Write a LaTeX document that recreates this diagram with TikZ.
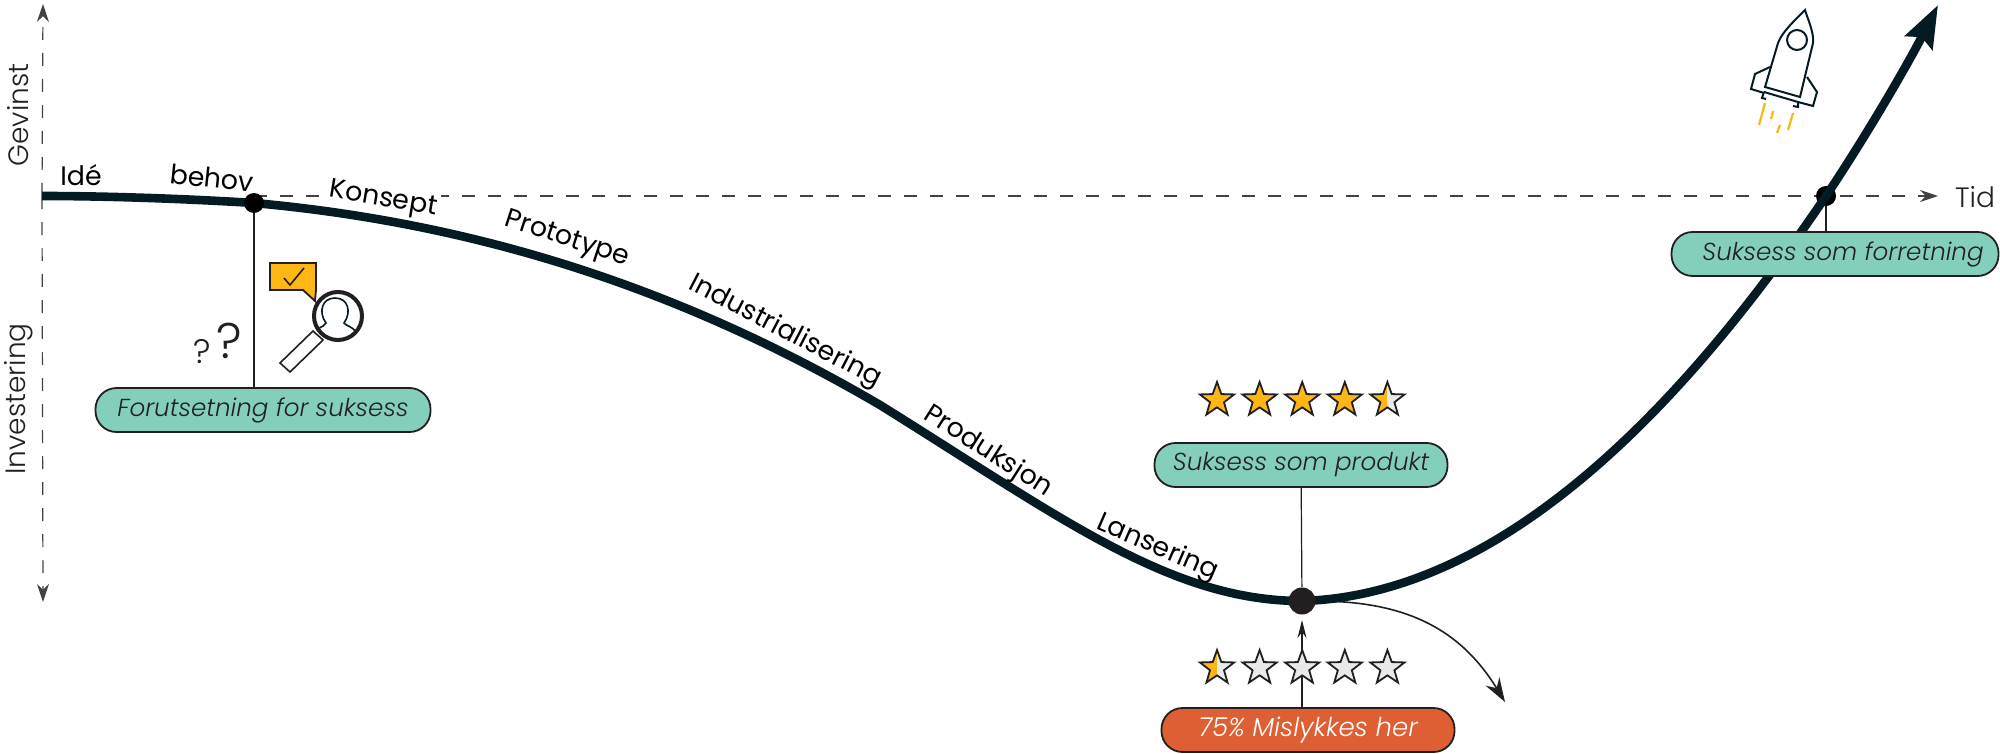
\documentclass[tikz,border=0pt]{standalone}
\usepackage{fontspec}
\usepackage{xcolor}
\usepackage{tikz}
\usetikzlibrary{shapes,shapes.geometric,arrows.meta,positioning,backgrounds,calc}
\setmainfont{Poppins}
\newfontfamily\lightfont{Poppins}[UprightFont=* Light,ItalicFont=* Light Italic]
\definecolor{curvedark}{HTML}{051B24}
\definecolor{inkdark}{HTML}{231F20}
\definecolor{pillteal}{HTML}{84CFBC}
\definecolor{pillred}{HTML}{DE5F33}
\definecolor{staryellow}{HTML}{FDB614}
\definecolor{stargrey}{HTML}{E8E9EA}

\begin{document}
\begin{tikzpicture}[
    x=0.5pt, y=-0.5pt,
    node distance=21.3pt,
    pill/.style={rectangle, rounded corners=10.5pt, minimum height=22pt, inner sep=0pt, draw=inkdark, line width=0.9pt, text=inkdark, font=\lightfont\itshape\fontsize{12.3pt}{15pt}\selectfont},
    stepname/.style={inner sep=0pt, text=black, font=\fontsize{13.4pt}{15pt}\selectfont},
    axisname/.style={inner sep=0pt, text=inkdark, font=\lightfont\fontsize{14pt}{16pt}\selectfont},
    dot/.style={circle, fill=inkdark, inner sep=0pt},
    star_off/.style={star, star points=5, star point ratio=2.45, minimum size=18pt, inner sep=0pt, draw=inkdark, line width=0.9pt, fill=stargrey},
    star_on/.style={star_off, fill=staryellow},
    star_half/.style={star_off, path picture={\fill[staryellow] (path picture bounding box.south west) rectangle (path picture bounding box.north);}},
    dasharrow/.style={line width=0.6pt, inkdark!85, dash pattern=on 6.5pt off 6.5pt, -{Stealth[length=9pt,width=6pt]}},
    thin/.style={line width=0.6pt, inkdark},
    icon/.style={line width=1pt, curvedark, line join=miter},
    flame/.style={line width=1.1pt, staryellow}
]
\useasboundingbox (0,0) rectangle (2000,754);

% Points on the curve
\node[dot, fill=black, minimum size=10pt] (dot_need) at (254,203) {};
\node[dot, minimum size=13.5pt] (dot_low) at (1302,601) {};

% Label boxes
\node[pill, fill=pillteal, minimum width=167.5pt] (box_need) at (263,410) {Forutsetning for suksess};
\node[pill, fill=pillteal, minimum width=146.5pt] (box_product) at (1301,465) {Suksess som produkt};
\node[pill, fill=pillred, text=white, font=\lightfont\itshape\fontsize{13pt}{15pt}\selectfont, minimum width=146.5pt] (box_fail) at (1308,730) {75\% Mislykkes her};
\node[pill, fill=pillteal, minimum width=163.5pt] (box_business) at (1835,254) {\hspace*{8pt}Suksess som forretning};

\coordinate (axis_top) at (43,4);
\coordinate (axis_bottom) at (43,602);
\coordinate (axis_end) at (1938,196);
\coordinate (fail_end) at (1505,702);
\coordinate (curve_start) at (42,196);
\coordinate (curve_tip) at (1938,5);

% Axes and connectors go behind everything else
\begin{scope}[on background layer]
\draw[dasharrow] (curve_start) -- (axis_top);
\draw[dasharrow] (curve_start) -- (axis_bottom);
\draw[dasharrow] (dot_need |- curve_start) -- (axis_end);
\node[stepname, fill=white, inner sep=1pt, rotate=-9.5] (step_concept) at (383,200) {Konsept};
\node[dot, fill=black, minimum size=10pt] (dot_business) at (1826,196) {};
\draw[thin] (dot_business) -- (dot_business |- box_business.north);
\draw[thin] (dot_need) -- (dot_need |- box_need.north);
\draw[thin] (box_product) -- (dot_low);
\draw[thin, -{Stealth[length=9pt,width=4.5pt]}] (dot_low |- box_fail.north) -- ($(dot_low)+(0,19)$);
\draw[line width=0.8pt, inkdark, -{Stealth[length=12pt,width=8pt]}] (dot_low) .. controls (1400,601) and (1458,625) .. (fail_end);
% Main curve
\draw[line width=4.3pt, curvedark, -{Stealth[length=21pt,width=15pt,inset=3pt]}] (curve_start) .. controls (110,196) and (190,199) .. (dot_need.center) .. controls (464,222) and (670,282) .. (880,405) .. controls (1060,517) and (1170,601) .. (dot_low.center) .. controls (1470,596) and (1645,463) .. (dot_business.center) .. controls (1870,130) and (1910,60) .. (curve_tip);
\end{scope}

% Stages along the curve
\node[stepname] (step_idea) at (81,175) {Idé};
\node[stepname, rotate=-6] (step_need) at (212,178) {behov};
\node[stepname, rotate=-18] (step_proto) at (567,240) {Prototype};
\node[stepname, rotate=-27.5] (step_indust) at (785,332) {Industrialisering};
\node[stepname, rotate=-32.5] (step_prod) at (988,452) {Produksjon};
\node[stepname, rotate=-23.5] (step_launch) at (1157,548) {Lansering};

% Axis names
\node[axisname, rotate=90] (axis_gain) at (18,115) {Gevinst};
\node[axisname, rotate=90] (axis_invest) at (19,399) {Investering};
\node[axisname] (axis_time) at (1975,197) {Tid};

% Star rows
\node[star_on] (star_a) at (1217,400) {};
\node[star_on, right of=star_a] (star_b) {};
\node[star_on, right of=star_b] (star_c) {};
\node[star_on, right of=star_c] (star_d) {};
\node[star_half, right of=star_d] (star_e) {};
\node[star_half] (star_f) at (1217,668) {};
\node[star_off, right of=star_f] (star_g) {};
\node[star_off, right of=star_g] (star_h) {};
\node[star_off, right of=star_h] (star_i) {};
\node[star_off, right of=star_i] (star_j) {};

% Question marks
\node[inner sep=0pt, text=inkdark, font=\lightfont\fontsize{25pt}{25pt}\selectfont] (ask_big) at (229,341) {?};
\node[inner sep=0pt, text=inkdark, font=\lightfont\fontsize{17pt}{17pt}\selectfont] (ask_small) at (202,352) {?};

% Magnifier with speech bubble
\draw[line width=0.9pt, inkdark, fill=staryellow] (270,263) -- (316,263) -- (316,290) -- (315,301) -- (303,290) -- (270,290) -- cycle;
\draw[line width=0.8pt, inkdark] (284,278) -- (290,285) -- (304,268);
\draw[line width=0.8pt, inkdark, fill=white] (280,363) -- (290,372) -- (323,340) -- (313,331) -- cycle;
\draw[icon, line width=0.8pt, fill=white] (338,316) circle (12pt);
\draw[icon, line width=0.8pt] (318,329) .. controls (322,326) and (325,326) .. (326,323) .. controls (318,312) and (322,298) .. (335,298) .. controls (348,298) and (352,312) .. (344,323) .. controls (346,326) and (352,326) .. (356,332);
\draw[line width=2pt, inkdark] (338,316) circle (12pt);

% Rocket
\draw[icon, fill=white] (1770,67) -- (1755,74) -- (1751,89) -- (1764,93);
\draw[icon, fill=white] (1807,77) -- (1817,92) -- (1813,106) -- (1798,102);
\draw[icon] (1765,87) -- (1778,43) .. controls (1782,32) and (1795,20) .. (1805,10) .. controls (1808,20) and (1814,32) .. (1813,43) -- (1800,97) -- cycle;
\draw[icon] (1764,92) -- (1798,102);
\draw[icon] (1764,92) -- (1762,98) -- (1766,99);
\draw[icon] (1798,102) -- (1798,107) -- (1793,106);
\draw[icon] (1797,40) circle (5pt);
\draw[flame] (1765,103) -- (1759,125);
\draw[flame] (1773,111) -- (1771,119);
\draw[flame] (1780,125) -- (1777,133);
\draw[flame] (1793,113) -- (1788,130);
\end{tikzpicture}
\end{document}
